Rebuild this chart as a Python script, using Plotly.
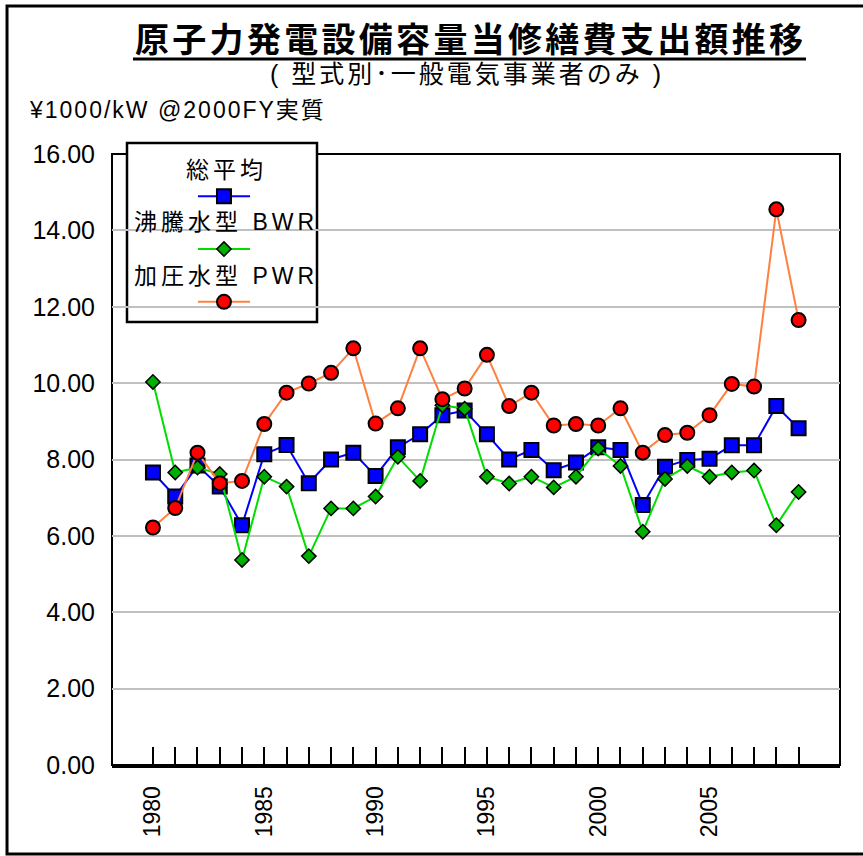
import plotly.graph_objects as go

# Fiscal years and maintenance cost per installed capacity (¥1000/kW, FY2000 real terms)
years = list(range(1980, 2010))
avg_all = [7.66, 7.03, 7.84, 7.29, 6.28, 8.14, 8.38, 7.38, 8.00, 8.18,
           7.57, 8.32, 8.66, 9.16, 9.28, 8.66, 8.00, 8.25, 7.72, 7.92,
           8.32, 8.25, 6.81, 7.81, 7.99, 8.02, 8.37, 8.37, 9.40, 8.82]
bwr = [10.03, 7.66, 7.79, 7.62, 5.37, 7.55, 7.29, 5.47, 6.72, 6.72,
       7.03, 8.07, 7.44, 9.42, 9.33, 7.55, 7.37, 7.55, 7.27, 7.55,
       8.29, 7.83, 6.11, 7.49, 7.83, 7.55, 7.66, 7.71, 6.28, 7.15]
pwr = [6.22, 6.73, 8.18, 7.38, 7.44, 8.93, 9.75, 9.99, 10.27, 10.91,
       8.94, 9.34, 10.91, 9.58, 9.86, 10.74, 9.40, 9.75, 8.89, 8.93,
       8.89, 9.34, 8.18, 8.64, 8.70, 9.16, 9.98, 9.91, 14.55, 11.65]

year_labels = [str(y) if y % 5 == 0 else "" for y in years]
series_names = ["総平均", "沸騰水型 BWR", "加圧水型 PWR"]
title_text = "原子力発電設備容量当修繕費支出額推移"
subtitle_text = "( 型式別･一般電気事業者のみ )"
unit_text = "¥1000/kW @2000FY実質"

FONT = "Liberation Sans, Arial, Noto Sans CJK JP, sans-serif"


def spaced(text, px):
    """Wrap text in a span with extra letter spacing."""
    return f'<span style="letter-spacing:{px}px">{text}</span>'


styles = [
    dict(line=dict(color="#0000ff", width=2),
         marker=dict(symbol="square", size=14, color="#0000ff",
                     line=dict(color="black", width=2))),
    dict(line=dict(color="#00dd00", width=2),
         marker=dict(symbol="diamond", size=11, color="#00b000",
                     line=dict(color="black", width=1.5))),
    dict(line=dict(color="#ff8040", width=2),
         marker=dict(symbol="circle", size=14, color="#ff0000",
                     line=dict(color="black", width=2))),
]

fig = go.Figure()
for name, vals, st in zip(series_names, [avg_all, bwr, pwr], styles):
    fig.add_trace(go.Scatter(x=years, y=vals, mode="lines+markers", name=name,
                             line=st["line"], marker=st["marker"],
                             cliponaxis=False, showlegend=False))

# Hand-built legend: caption above each key sample (drawn on an overlay axis in plot-fraction units)
key_x0, key_x1, key_xc = 0.1181, 0.1896, 0.1538
key_y = [0.931, 0.8445, 0.758]
text_y = [0.9738, 0.8887, 0.8003]
for name, ky, st in zip(series_names, key_y, styles):
    fig.add_trace(go.Scatter(x=[key_x0, key_x1], y=[ky, ky], mode="lines",
                             line=st["line"], xaxis="x2", yaxis="y2",
                             showlegend=False, hoverinfo="skip", cliponaxis=False))
    fig.add_trace(go.Scatter(x=[key_xc], y=[ky], mode="markers",
                             marker=st["marker"], xaxis="x2", yaxis="y2",
                             showlegend=False, hoverinfo="skip", cliponaxis=False))

annotations = []
for name, ty in zip(series_names, text_y):
    annotations.append(dict(text=spaced(name, 4), x=key_xc + 0.003, y=ty,
                            xref="paper", yref="paper",
                            showarrow=False, xanchor="center", yanchor="middle",
                            font=dict(family=FONT, size=23, color="black")))
annotations += [
    dict(text="<b>" + spaced(title_text, 3.3) + "</b>", x=0.4925, y=1.1866,
         xref="paper", yref="paper",
         showarrow=False, xanchor="center", yanchor="middle",
         font=dict(family=FONT, size=34, color="black")),
    dict(text=spaced(subtitle_text, 3), x=0.488, y=1.131, xref="paper", yref="paper",
         showarrow=False, xanchor="center", yanchor="middle",
         font=dict(family=FONT, size=25, color="black")),
    dict(text=spaced(unit_text, 2), x=-0.1168, y=1.072, xref="paper", yref="paper",
         showarrow=False, xanchor="left", yanchor="middle",
         font=dict(family=FONT, size=23, color="black")),
]

shapes = [
    # plot-area frame
    dict(type="rect", xref="paper", yref="paper", x0=0, x1=1, y0=0, y1=1,
         line=dict(color="black", width=2), layer="between"),
    # legend box
    dict(type="rect", xref="paper", yref="paper", x0=0.0206, x1=0.2816, y0=0.725, y1=1.018,
         line=dict(color="black", width=2.5), fillcolor="white", layer="between"),
    # outer chart frame
    dict(type="rect", xref="paper", yref="paper", x0=-0.1442, x1=1.04, y0=-0.1457, y1=1.2422,
         line=dict(color="black", width=3), layer="above"),
    # title underline
    dict(type="line", xref="paper", yref="paper", x0=0.0288, x1=0.9533, y0=1.1555, y1=1.1555,
         line=dict(color="black", width=3), layer="above"),
]

fig.update_layout(
    width=863, height=856,
    margin=dict(l=112, r=23, t=154, b=91),
    paper_bgcolor="white", plot_bgcolor="white",
    showlegend=False,
    annotations=annotations, shapes=shapes,
    xaxis=dict(range=[1978.16, 2010.86], tickmode="array", tickvals=years,
               ticktext=year_labels, ticks="inside", ticklen=18, tickwidth=2,
               tickcolor="black", tickangle=-90, showgrid=False, zeroline=False,
               showline=True, linecolor="black", linewidth=3,
               tickfont=dict(family=FONT, size=23, color="black"),
               ticklabelstandoff=9),
    yaxis=dict(range=[0, 16], tickmode="array", tickvals=list(range(0, 17, 2)),
               tickformat=".2f", showgrid=True, gridcolor="#c0c0c0", gridwidth=2,
               zeroline=False, showline=False, ticks="",
               tickfont=dict(family=FONT, size=25, color="black"),
               ticklabelstandoff=16),
    xaxis2=dict(overlaying="x", range=[0, 1], visible=False),
    yaxis2=dict(overlaying="y", range=[0, 1], visible=False),
)

fig.write_html("out.html")
